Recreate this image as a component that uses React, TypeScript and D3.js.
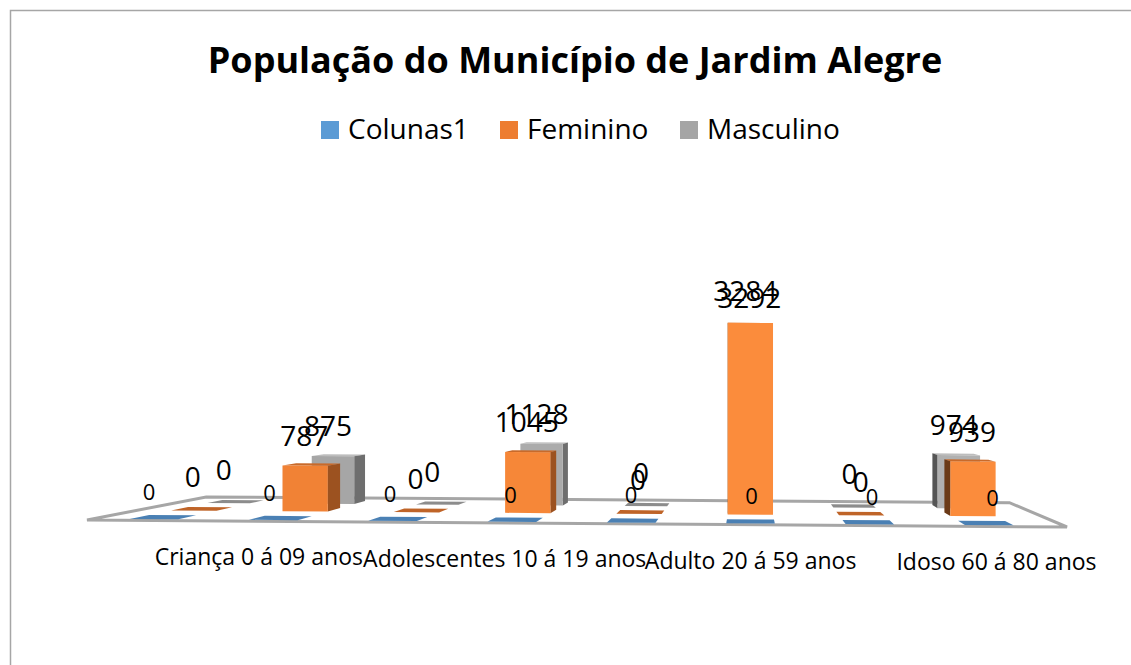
import React from 'react'
import * as d3 from 'd3'

const WIDTH = 1131
const HEIGHT = 665
const FONT = '"Open Sans", sans-serif'

const title = 'População do Município de Jardim Alegre'
const slots = d3.range(8)
const categories = ['', 'Criança 0 á 09 anos', '', 'Adolescentes 10 á 19 anos', '', 'Adulto 20 á 59 anos', '', 'Idoso 60 á 80 anos']
const seriesNames = ['Colunas1', 'Feminino', 'Masculino']
const colunas1 = [0, 0, 0, 0, 0, 0, 0, 0]
const feminino = [0, 787, 0, 1045, 0, 3292, 0, 939]
const masculino = [0, 875, 0, 1128, 0, 3284, 0, 974]
const seriesValues = [colunas1, feminino, masculino]

const legendColors = ['#5b9bd5', '#ed7d31', '#a5a5a5']
const legendX = [321, 500, 680]
const flatColors = ['#4a80b4', '#bf6428', '#8c8c8c']
const labelFont = [22, 28, 28]
const labelLift = [15, 20, 20]
const tallLift = [15, 15, 27]
const labelShift = [1, -1, -5]

// fake 3d camera: everything shrinks toward one vanishing point
const VX = 748
const VY = 392
const K = 0.22
const depthScale = (d: number) => 1 / (1 + K * d)

const xBand = d3.scaleBand<number>().domain(slots).range([75.3, 1064.3]).paddingInner(0.593).paddingOuter(0.4)
const zBand = d3.scaleBand<string>().domain(seriesNames).range([-0.05, 0.95]).paddingInner(0.55).paddingOuter(0.29)
const heightScale = d3.scaleLinear().domain([0, 3292]).range([0, 207.5])
const floorY = d3.scaleLinear().domain([87, 1067]).range([520, 527])

const project = (x: number, d: number, h = 0): [number, number] => {
  const s = depthScale(d)
  return [VX + (x - VX) * s, VY + (floorY(x) - h - VY) * s]
}

const polyLine = d3.line().curve(d3.curveLinearClosed)
const mix = d3.interpolateRgb('#ee7f33', '#fb8c3c')
const greyMix = d3.interpolateRgb('#a3a3a3', '#b0b0b0')

function Bar({ slot, row }: { slot: number; row: number }) {
  const name = seriesNames[row]
  const value = seriesValues[row][slot]
  const x0 = xBand(slot) as number
  const x1 = x0 + xBand.bandwidth()
  const d0 = zBand(name) as number
  const d1 = d0 + zBand.bandwidth()

  if (value === 0) {
    const flat = [project(x0, d0), project(x1, d0), project(x1, d1), project(x0, d1)]
    return <path d={polyLine(flat) as string} fill={flatColors[row]} />
  }

  const h = heightScale(value)
  const t = slot / 5
  const front = row === 1 ? mix(Math.min(t, 1)) : greyMix(Math.min(t, 1))
  const sideX = x1 < VX ? x1 : x0
  const leftSide = sideX === x0
  const sideColor = row === 1 ? (leftSide ? '#6b3a17' : '#9c5220') : leftSide ? '#555555' : '#6e6e6e'
  const topFace = [project(x0, d0, h), project(x1, d0, h), project(x1, d1, h), project(x0, d1, h)]
  const sideFace = [project(sideX, d0), project(sideX, d1), project(sideX, d1, h), project(sideX, d0, h)]
  const frontFace = [project(x0, d0), project(x1, d0), project(x1, d0, h), project(x0, d0, h)]
  return (
    <g>
      <path d={polyLine(topFace) as string} fill={row === 1 ? '#c96a2a' : '#bdbdbd'} />
      <path d={polyLine(sideFace) as string} fill={sideColor} />
      <path d={polyLine(frontFace) as string} fill={front} />
    </g>
  )
}

function ValueLabel({ slot, row }: { slot: number; row: number }) {
  const name = seriesNames[row]
  const value = seriesValues[row][slot]
  const cx = (xBand(slot) as number) + xBand.bandwidth() / 2
  const d0 = zBand(name) as number
  const px = project(cx, row === 0 ? 0 : d0)[0] + labelShift[row]
  const lift = value > 3000 ? tallLift[row] : labelLift[row]
  const py = project(cx, value === 0 ? d0 + zBand.bandwidth() : d0, heightScale(value))[1] - lift
  return (
    <text x={px} y={py} textAnchor="middle" fontSize={value === 0 ? labelFont[row] : 28} fill="#000">
      {value}
    </text>
  )
}

export default function App() {
  const floor = [project(87, 0), project(1067, 0), project(1067, 1), project(87, 1)]
  return (
    <svg
      width={WIDTH}
      height={HEIGHT}
      style={{ position: 'absolute', left: 0, top: 0, background: '#fff' }}
      fontFamily={FONT}
    >
      <path d={`M10.5,${HEIGHT}V10.5H${WIDTH}`} fill="none" stroke="#a6a6a6" strokeWidth={1.5} />
      <text x={575} y={73} textAnchor="middle" fontSize={36} fontWeight={700} fill="#000">
        {title}
      </text>

      {seriesNames.map((name, i) => (
        <g key={name}>
          <rect x={legendX[i]} y={121} width={18} height={18} fill={legendColors[i]} />
          <text x={legendX[i] + 27} y={139} fontSize={28} fill="#000">
            {name}
          </text>
        </g>
      ))}

      <path d={polyLine(floor) as string} fill="#fff" stroke="#a6a6a6" strokeWidth={3} />

      {[2, 1, 0].map(row =>
        slots.map(slot => <Bar key={`${row}-${slot}`} slot={slot} row={row} />)
      )}

      {[2, 1, 0].map(row =>
        slots.map(slot => <ValueLabel key={`${row}-${slot}`} slot={slot} row={row} />)
      )}

      {slots.filter(slot => categories[slot]).map(slot => {
        const cx = (xBand(slot) as number) + xBand.bandwidth() / 2
        const [px] = project(cx, -0.09)
        return (
          <text key={slot} x={px} y={floorY(px) + 44} textAnchor="middle" fontSize={23} fill="#000">
            {categories[slot]}
          </text>
        )
      })}
    </svg>
  )
}
